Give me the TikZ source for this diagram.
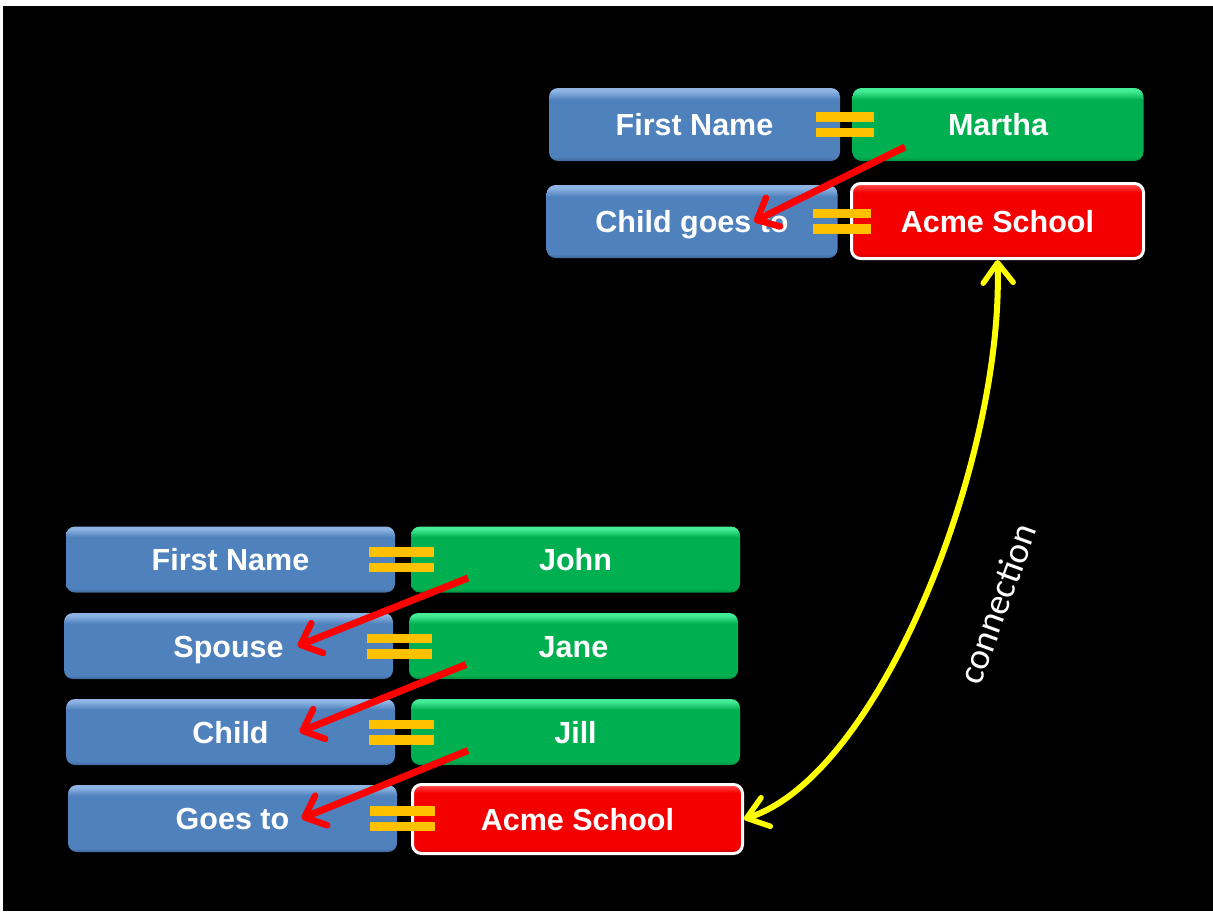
\documentclass[tikz,border=0pt]{standalone}
\usepackage{fontspec}
\setmainfont{Liberation Sans}
\newfontfamily\labelfont{Carlito}
\usetikzlibrary{arrows.meta,calc}

% palette
\definecolor{boxblue}{HTML}{4F81BD}
\definecolor{boxblueL}{HTML}{8DB4E3}
\definecolor{boxblueD}{HTML}{41699B}
\definecolor{boxgreen}{HTML}{00B050}
\definecolor{boxgreenL}{HTML}{45EC96}
\definecolor{boxgreenD}{HTML}{009242}
\definecolor{boxred}{HTML}{F40000}
\definecolor{boxredL}{HTML}{FF3A3A}
\definecolor{boxredD}{HTML}{C80000}
\definecolor{eqorange}{HTML}{FFC000}
\definecolor{linkred}{HTML}{FF0000}
\definecolor{linkyellow}{HTML}{FFFF00}

% bevelled fills: the path is mapped onto the 25bp..75bp band
\pgfdeclareverticalshading{bluebevel}{100bp}{color(0bp)=(boxblueD); color(25bp)=(boxblueD); color(28bp)=(boxblue); color(67bp)=(boxblue); color(73bp)=(boxblueL); color(100bp)=(boxblueL)}
\pgfdeclareverticalshading{greenbevel}{100bp}{color(0bp)=(boxgreenD); color(25bp)=(boxgreenD); color(28bp)=(boxgreen); color(67bp)=(boxgreen); color(73bp)=(boxgreenL); color(100bp)=(boxgreenL)}
\pgfdeclareverticalshading{redbevel}{100bp}{color(0bp)=(boxredD); color(25bp)=(boxredD); color(29bp)=(boxred); color(69bp)=(boxred); color(73bp)=(boxredL); color(100bp)=(boxredL)}

\tikzset{
  field/.style={rectangle, rounded corners=9pt, inner sep=0pt, text=white,
    text height=22pt, text depth=0pt,
    font=\bfseries\fontsize{30.5}{31}\selectfont},
  keybox/.style={field, shade, shading=bluebevel},
  valbox/.style={field, shade, shading=greenbevel},
  schoolbox/.style={field, shade, shading=redbevel, draw=white, line width=3pt},
  upper/.style={minimum width=291pt, minimum height=73pt},
  lower/.style={minimum width=329pt, minimum height=66pt},
  eqbar/.style={fill=eqorange},
  hop/.style={draw=linkred, line width=7pt,
    -{Straight Barb[length=18pt,width=32pt,line width=6.5pt,round]}},
  link/.style={draw=linkyellow, line width=6pt,
    {Straight Barb[length=20pt,width=30pt,line width=5.5pt,round]}-{Straight Barb[length=20pt,width=30pt,line width=5.5pt,round]}},
  linklabel/.style={text=white, font=\labelfont\fontsize{37}{37}\selectfont}
}

\begin{document}
\begin{tikzpicture}[x=1pt,y=-1pt]
  \useasboundingbox (0,0) rectangle (1213,911);
  \fill[white] (0,0) rectangle (1213,911);
  \fill[black] (3,6) rectangle (1213,911);

  % record for Martha
  \node[keybox, upper] (fnA) at (694.5,124.5) {First Name};
  \node[valbox, upper] (martha) at (998,124.5) {Martha};
  \node[keybox, upper] (goesA) at (692,221.5) {Child goes to};
  \node[schoolbox, minimum width=292pt, minimum height=75pt] (acmeA) at (997.5,221) {Acme School};

  % record for John
  \node[keybox, lower] (fnB) at (230.5,559.5) {First Name};
  \node[valbox, lower] (john) at (575.5,559.5) {John};
  \node[keybox, lower] (spouse) at (228.5,646) {Spouse};
  \node[valbox, lower] (jane) at (573.5,646) {Jane};
  \node[keybox, lower] (child) at (230.5,732) {Child};
  \node[valbox, lower] (jill) at (575.5,732) {Jill};
  \node[keybox, lower, minimum height=67pt] (goesB) at (232.5,818.5) {Goes to};
  \node[schoolbox, minimum width=330pt, minimum height=69pt] (acmeB) at (577.5,819) {Acme School};

  % equals signs between key and value
  \foreach \a/\b/\w in {fnA/martha/58, goesA/acmeA/58, fnB/john/65, spouse/jane/65, child/jill/65, goesB/acmeB/65}{
    \coordinate (eqc) at ($(\a.east)!0.5!(\b.west)+(-1.5,0)$);
    \fill[eqbar] ($(eqc)+(-\w/2,-12.5)$) rectangle ($(eqc)+(\w/2,-3)$);
    \fill[eqbar] ($(eqc)+(-\w/2,3)$) rectangle ($(eqc)+(\w/2,12.5)$);
  }

  % value -> next key hops
  \coordinate (hA0) at ($(martha.center)+(-93,22.5)$);
  \coordinate (hA1) at ($(goesA.center)+(62,0)$);
  \draw[hop] (hA0) -- (hA1);
  \foreach \v/\k in {john/spouse, jane/child, jill/goesB}{
    \coordinate (h0) at ($(\v.center)+(-107.5,18.5)$);
    \coordinate (h1) at ($(\k.center)+(69,0)$);
    \draw[hop] (h0) -- (h1);
  }

  % link between the two school entries
  \draw[link] (acmeB.east) .. controls +(136,-44) and +(6,200) .. (acmeA.south);
  \node[linklabel, rotate=70] (conn) at (997,604) {connection};
\end{tikzpicture}
\end{document}
